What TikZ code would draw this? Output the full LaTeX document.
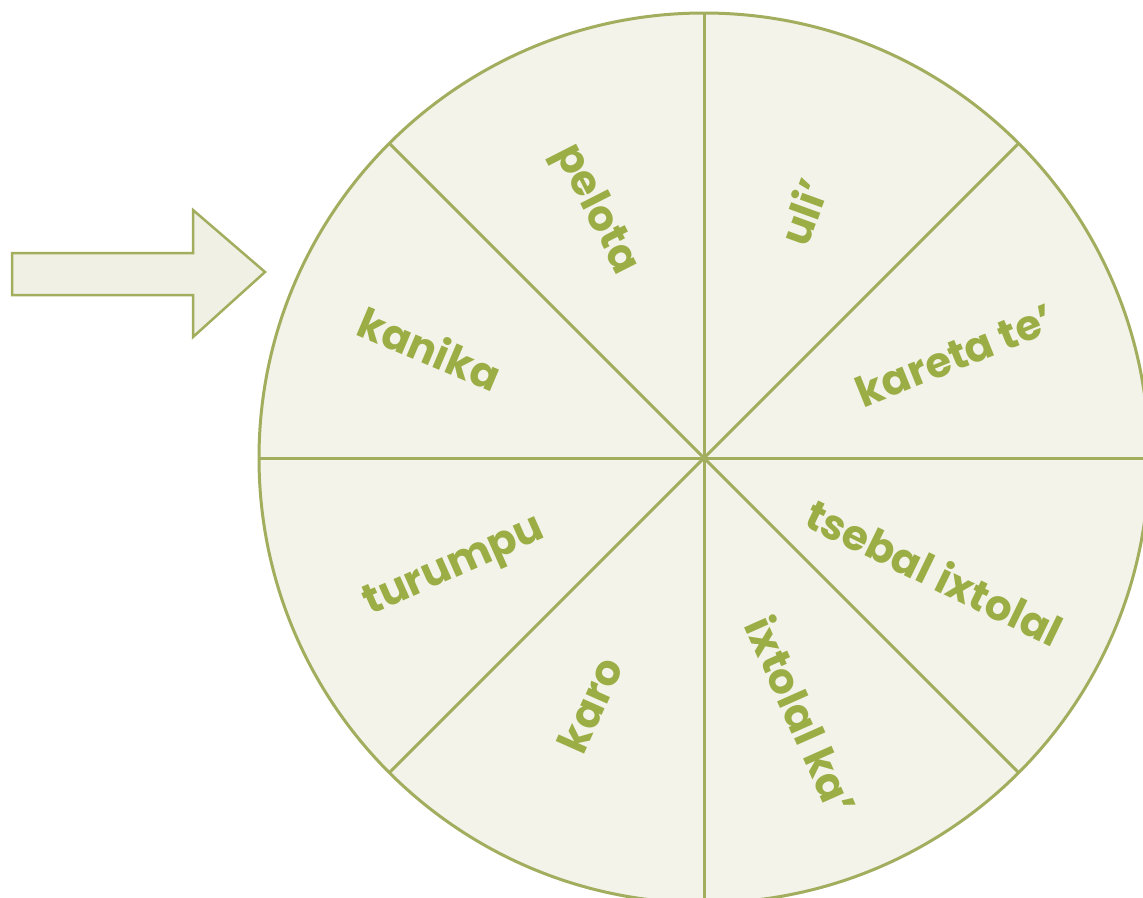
\documentclass[tikz,border=0pt]{standalone}
\usepackage{fontspec}
\newfontfamily\wheelfont{Poppins}
\definecolor{rimgreen}{HTML}{A2AE5E}
\definecolor{wheelfill}{HTML}{F4F3EA}
\definecolor{txtgreen}{HTML}{9BAE45}
\definecolor{arrowfill}{HTML}{F0F1E4}
\tikzset{
  rim/.style={draw=rimgreen, line width=3pt, fill=wheelfill},
  spoke/.style={draw=rimgreen, line width=3pt},
  lbl/.style={text=txtgreen, font=\wheelfont\bfseries\fontsize{42}{46}\selectfont, inner sep=0pt},
  pointer/.style={draw=rimgreen, line width=2.5pt, fill=arrowfill, line join=miter}
}
\begin{document}
\begin{tikzpicture}[x=1pt,y=1pt]
\useasboundingbox (0,0) rectangle (1143,-897);
\fill[white] (0,0) rectangle (1143,-897);
\begin{scope}
\clip (0,0) rectangle (1143,-897);
\coordinate (C) at (704,-458);
\draw[rim] (C) circle[radius=445];
\foreach \a in {0,45,...,315} {
  \draw[spoke] (C) -- ([shift={(\a:445)}]C);
}
\end{scope}
\draw[pointer] (12,-253) -- (193,-253) -- (193,-210) -- (265,-272) -- (193,-337) -- (193,-295) -- (12,-295) -- cycle;
\node[lbl, rotate=22]  (kareta) at (955,-355) {kareta te’};
\node[lbl, rotate=70]  (uli)    at (803,-212) {uli’};
\node[lbl, rotate=-63] (pelota) at (595,-210) {pelota};
\node[lbl, rotate=-23] (kanika) at (430,-348) {kanika};
\node[lbl, rotate=24]  (turumpu) at (455,-568) {turumpu};
\node[lbl, rotate=66]  (karo)   at (590,-705) {karo};
\node[lbl, rotate=-66] (ixka)   at (802,-715) {ixtolal ka’};
\node[lbl, rotate=-26] (tsebal) at (935,-572) {tsebal ixtolal};
\end{tikzpicture}
\end{document}
